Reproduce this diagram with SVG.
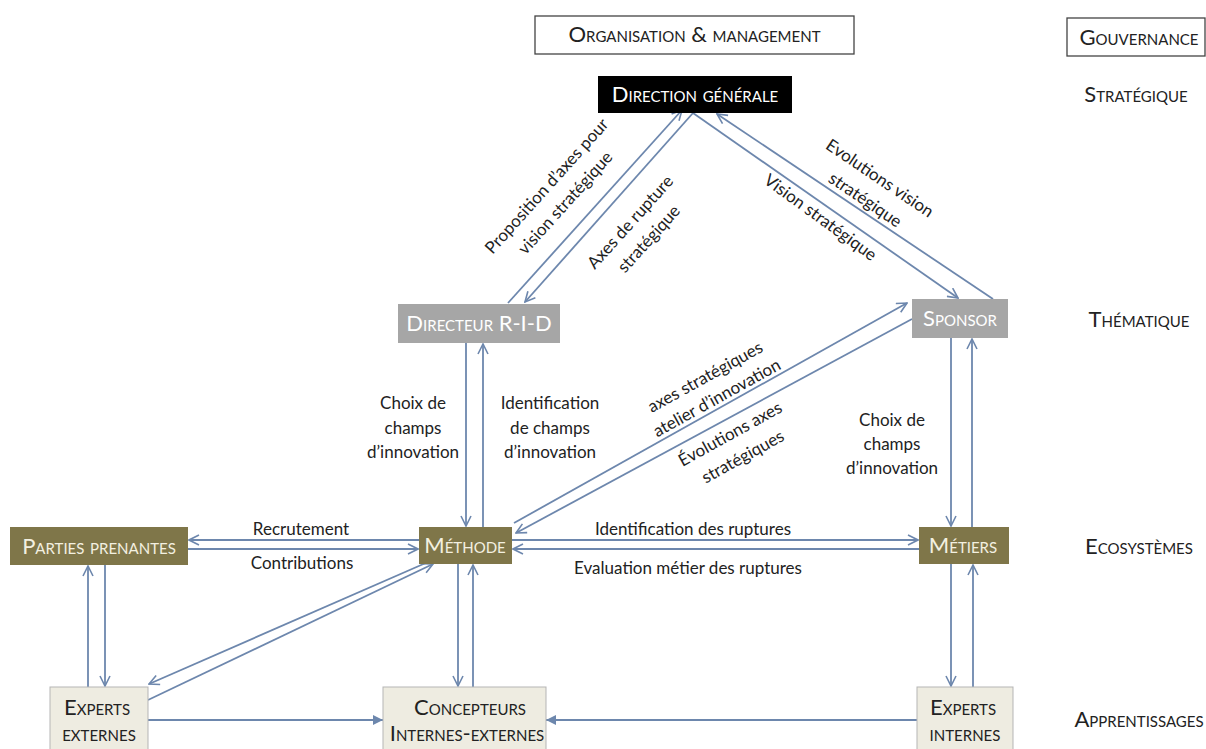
<svg xmlns="http://www.w3.org/2000/svg" width="1206" height="749" viewBox="0 0 1206 749">
<style>
text{font-family:Lato,"Liberation Sans",sans-serif;fill:#222}
.sc{font-variant:small-caps;font-size:22px;text-anchor:middle}
.lbl{font-size:17px;text-anchor:middle}
.w{fill:#ffffff}
.cr{fill:#f3f0e0}
.c{fill:none;stroke:#6d87ad;stroke-width:1.8}
.o{marker-end:url(#open)}
.t{marker-end:url(#tri)}
.hdr{fill:#fff;stroke:#444;stroke-width:1.3}
.gray{fill:#a6a6a6}
.olive{fill:#7f7649}
.beige{fill:#eeece1;stroke:#b5b5b5;stroke-width:1}
</style>
<defs>
<marker id="open" viewBox="0 0 12 12" refX="11" refY="6" markerWidth="12" markerHeight="12" markerUnits="userSpaceOnUse" orient="auto"><path d="M1,1 L11,6 L1,11" fill="none" stroke="#6d87ad" stroke-width="1.6"/></marker>
<marker id="tri" viewBox="0 0 10 10" refX="10" refY="5" markerWidth="10" markerHeight="10" markerUnits="userSpaceOnUse" orient="auto"><path d="M0,0 L10,5 L0,10 z" fill="#6d87ad"/></marker>
</defs>

<g id="connectors">
<line class="c o" x1="508" y1="303" x2="682" y2="110"/>
<line class="c o" x1="693" y1="113" x2="525" y2="302"/>
<line class="c o" x1="693" y1="113" x2="958" y2="298"/>
<line class="c o" x1="993" y1="299" x2="717" y2="114"/>
<line class="c o" x1="514" y1="523" x2="907" y2="303"/>
<line class="c o" x1="912" y1="319" x2="516" y2="533"/>
<line class="c o" x1="466" y1="343" x2="466" y2="526"/>
<line class="c o" x1="483" y1="527" x2="483" y2="344"/>
<line class="c o" x1="951" y1="338" x2="951" y2="526"/>
<line class="c o" x1="972" y1="527" x2="972" y2="339"/>
<line class="c o" x1="951" y1="564" x2="951" y2="686"/>
<line class="c o" x1="973" y1="687" x2="973" y2="565"/>
<line class="c o" x1="458" y1="564" x2="458" y2="686"/>
<line class="c o" x1="473" y1="687" x2="473" y2="565"/>
<line class="c o" x1="419" y1="540" x2="189" y2="540"/>
<line class="c o" x1="188" y1="549" x2="418" y2="549"/>
<line class="c o" x1="512" y1="540" x2="918" y2="540"/>
<line class="c o" x1="919" y1="549" x2="513" y2="549"/>
<line class="c o" x1="88" y1="687" x2="88" y2="566"/>
<line class="c o" x1="105" y1="565" x2="105" y2="686"/>
<line class="c o" x1="428" y1="562" x2="149" y2="684"/>
<line class="c o" x1="148" y1="700" x2="433" y2="564"/>
<line class="c t" x1="148" y1="720" x2="383" y2="720"/>
<line class="c t" x1="917" y1="720" x2="546" y2="720"/>
</g>

<g id="labels">
<text class="lbl" transform="translate(551,190) rotate(-48)"><tspan x="0" y="0">Proposition d’axes pour</tspan><tspan x="0" y="25">vision stratégique</tspan></text>
<text class="lbl" transform="translate(634.5,226) rotate(-48)"><tspan x="0" y="0">Axes de rupture</tspan><tspan x="0" y="25">stratégique</tspan></text>
<text class="lbl" transform="translate(876.6,183) rotate(34)"><tspan x="0" y="0">Evolutions vision</tspan><tspan x="0" y="26">stratégique</tspan></text>
<text class="lbl" transform="translate(817,222) rotate(36)">Vision stratégique</text>
<text class="lbl" transform="translate(708,382) rotate(-29)"><tspan x="0" y="0">axes stratégiques</tspan><tspan x="0" y="24">atelier d’innovation</tspan></text>
<text class="lbl" transform="translate(733,439) rotate(-29)"><tspan x="0" y="0">Évolutions axes</tspan><tspan x="0" y="26">stratégiques</tspan></text>
<text class="lbl"><tspan x="413" y="409">Choix de</tspan><tspan x="413" y="434">champs</tspan><tspan x="413" y="458">d’innovation</tspan></text>
<text class="lbl"><tspan x="550" y="409">Identification</tspan><tspan x="550" y="434">de champs</tspan><tspan x="550" y="458">d’innovation</tspan></text>
<text class="lbl"><tspan x="892" y="426">Choix de</tspan><tspan x="892" y="450">champs</tspan><tspan x="892" y="474">d’innovation</tspan></text>
<text class="lbl" x="301" y="535">Recrutement</text>
<text class="lbl" x="302" y="569">Contributions</text>
<text class="lbl" x="693" y="535">Identification des ruptures</text>
<text class="lbl" x="688" y="574">Evaluation métier des ruptures</text>
</g>

<g id="org">
<rect class="hdr" x="535" y="16" width="319" height="38"/>
<text class="sc" x="694.5" y="42">Organisation &amp; management</text>
</g>
<g id="gouvernance">
<rect class="hdr" x="1067" y="18" width="138" height="38"/>
<text class="sc" x="1139" y="45">Gouvernance</text>
</g>
<g id="strategique"><text class="sc" x="1136" y="102">Stratégique</text></g>
<g id="thematique"><text class="sc" x="1139" y="327">Thématique</text></g>
<g id="ecosystemes"><text class="sc" x="1139" y="554">Ecosystèmes</text></g>
<g id="apprentissages"><text class="sc" x="1139" y="727">Apprentissages</text></g>

<g id="direction">
<rect x="598" y="76" width="194" height="37" fill="#000"/>
<text class="sc w" x="695" y="102">Direction générale</text>
</g>
<g id="directeur">
<rect class="gray" x="398" y="304" width="162" height="39"/>
<text class="sc w" x="479" y="331">Directeur R-I-D</text>
</g>
<g id="sponsor">
<rect class="gray" x="912" y="299" width="96" height="39"/>
<text class="sc w" x="960" y="326">Sponsor</text>
</g>
<g id="parties">
<rect class="olive" x="10" y="527" width="178" height="38"/>
<text class="sc cr" x="99" y="554">Parties prenantes</text>
</g>
<g id="methode">
<rect class="olive" x="419" y="527" width="93" height="37"/>
<text class="sc cr" x="465" y="553">Méthode</text>
</g>
<g id="metiers">
<rect class="olive" x="919" y="527" width="90" height="37"/>
<text class="sc cr" x="963" y="553">Métiers</text>
</g>
<g id="experts-externes">
<rect class="beige" x="50" y="687" width="98" height="63"/>
<text class="sc"><tspan x="97" y="715">Experts</tspan><tspan x="99" y="741">externes</tspan></text>
</g>
<g id="concepteurs">
<rect class="beige" x="383" y="687" width="163" height="63"/>
<text class="sc"><tspan x="470" y="715">Concepteurs</tspan><tspan x="467" y="741">Internes-externes</tspan></text>
</g>
<g id="experts-internes">
<rect class="beige" x="917" y="687" width="96" height="63"/>
<text class="sc"><tspan x="963" y="715">Experts</tspan><tspan x="965" y="741">internes</tspan></text>
</g>
</svg>
